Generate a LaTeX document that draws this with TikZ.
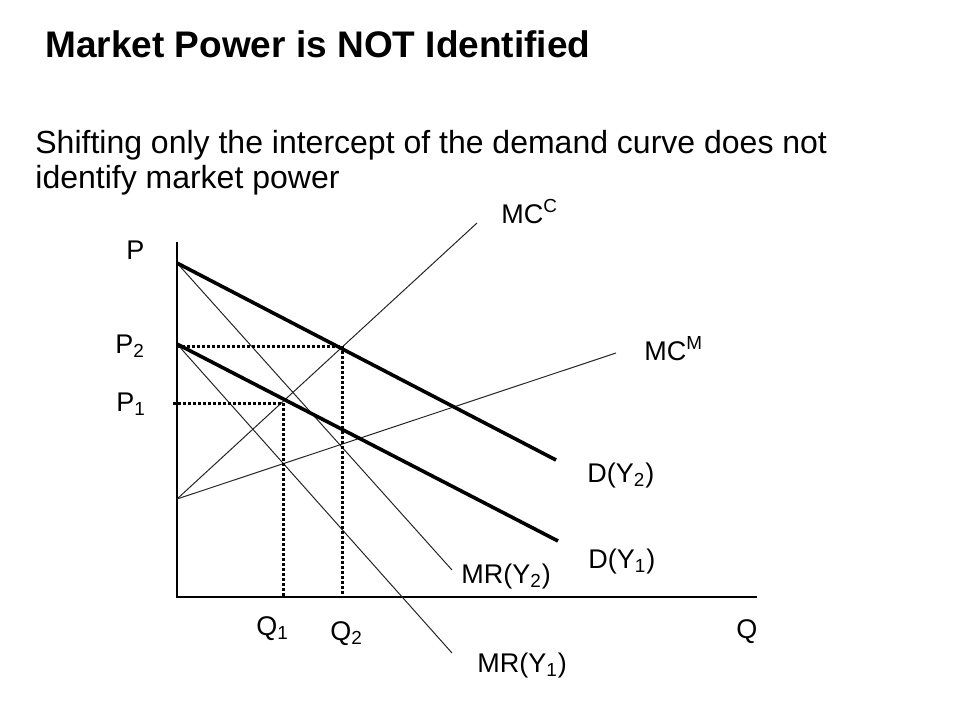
\documentclass[tikz,border=0pt]{standalone}
\usepackage{fontspec}
\setmainfont{Liberation Sans}
\usetikzlibrary{positioning}
\tikzset{
	x = .5pt,
	y = -.5pt,
	font = \fontsize{13.5}{16}\selectfont,
	axis/.style={
		line width=.75pt
	},
	thin curve/.style={
		line width=.5pt,
		color=black!85
	},
	demand/.style={
		line width=1.8pt
	},
	guide/.style={
		line width=1.5pt,
		dash pattern=on 1.5pt off 1pt
	},
	tag/.style={
		inner sep=0pt,
		anchor=base west
	}
}

\begin{document}
\begin{tikzpicture}
\useasboundingbox (0,0) rectangle (960,720);
% ---
% Heading
% ---
\node[tag, font=\bfseries\fontsize{18.5}{22}\selectfont] (title) at (45,57) {Market Power is NOT Identified};
\node[tag, font=\fontsize{16}{19}\selectfont] (sub1) at (35,153) {Shifting only the intercept of the demand curve does not};
\node[tag, font=\fontsize{16}{19}\selectfont] (sub2) at (35,188) {identify market power};

% ---
% Axes and curves
% ---
\coordinate (o) at (177,597);
\coordinate (ptop) at (177,242);
\coordinate (qend) at (757,597);

\coordinate (a2) at (177,263);
\coordinate (a1) at (177,344);
\coordinate (c) at (177,499);
\coordinate (d2) at (556,460);
\coordinate (d1) at (558,541);
\coordinate (mr2) at (452,570);
\coordinate (mr1) at (452,653);
\coordinate (mcc) at (477,223);
\coordinate (mcm) at (616,353);

\coordinate (e2) at (342,346);
\coordinate (e1) at (283,403);
\coordinate (e1l) at (173,403);

\draw[axis] (ptop) -- (o) -- (qend);

\draw[thin curve] (c) -- (mcc);
\draw[thin curve] (c) -- (mcm);
\draw[thin curve] (a2) -- (mr2);
\draw[thin curve] (a1) -- (mr1);

\draw[demand] (a2) -- (d2);
\draw[demand] (a1) -- (d1);

\draw[guide] (ptop |- e2) -- (e2) -- (e2 |- o);
\draw[guide] (e1l) -- (e1) -- (e1 |- o);

% ---
% Labels
% ---
\node[tag] (p) at (126,259) {P};
\node[tag] (p2) at (115,353) {P\textsubscript{2}};
\node[tag] (p1) at (116,411) {P\textsubscript{1}};
\node[tag] (q1) at (256,635) {Q\textsubscript{1}};
\node[tag] (q2) at (330,640) {Q\textsubscript{2}};
\node[tag] (q) at (736,638) {Q};
\node[tag] (mcclab) at (501,223) {MC\textsuperscript{C}};
\node[tag] (mcmlab) at (644,360) {MC\textsuperscript{M}};
\node[tag] (d2lab) at (587,482) {D(Y\textsubscript{2})};
\node[tag] (d1lab) at (588,568) {D(Y\textsubscript{1})};
\node[tag] (mr2lab) at (461,583) {MR(Y\textsubscript{2})};
\node[tag] (mr1lab) at (477,672) {MR(Y\textsubscript{1})};
\end{tikzpicture}
\end{document}
